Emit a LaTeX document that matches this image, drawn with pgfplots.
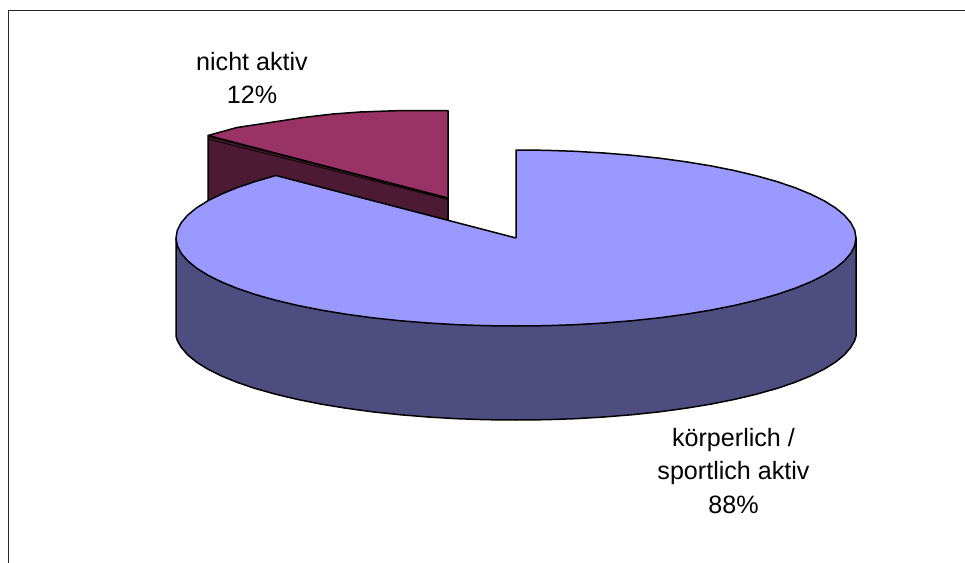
\documentclass[border=0pt]{standalone}
\usepackage{pgfplots}
\pgfplotsset{compat=1.18}
\usepackage{fontspec}
\setmainfont{Liberation Sans}
\definecolor{bigtop}{HTML}{9999FF}
\definecolor{bigwall}{HTML}{4D4D80}
\definecolor{smalltop}{HTML}{993366}
\definecolor{smallwall}{HTML}{4D1A33}
\begin{document}
\begin{tikzpicture}
\path[use as bounding box] (0,0) rectangle (965bp,563bp);
\begin{axis}[
  at={(0,0)},anchor=south west,
  scale only axis,width=965bp,height=563bp,
  xmin=0,xmax=965,ymin=0,ymax=563,y dir=reverse,
  hide axis,clip=false,
  every axis plot/.style={line width=1.5bp,draw=black,line join=round}
]
% frame
\addplot[line width=1.3bp,draw=black!85] coordinates {(8.7,563) (8.7,10.5) (965,10.5)};
% detached slice: wall
\addplot[fill=smallwall] coordinates {(208,136) (448,198) (448,222) (448,300) (208,300) (208,136)};
% detached slice: top
\addplot[fill=smalltop] coordinates {(448,198) (448,110.7) (397,110.7) (360,112) (333,114) (303,117.5) (267,123) (237,127.5) (208,135.5) (448,198)};
\addplot[line width=0.8bp] coordinates {(208,139) (448,199.5)};
% main slice: wall
\addplot[fill=bigwall] coordinates {
(176,238) (176,336) (177.3,340.5) (181.2,347.3) (187.6,354.8) (196.5,362.1) (207.9,369.2) (221.6,376) (237.5,382.5) (255.6,388.6) (275.6,394.2) (297.4,399.4) (321,404.1) (346,408.2) (372.3,411.8) (399.7,414.7) (428,417) (457,418.7) (486.4,419.7) (516,420) (545.6,419.7) (575,418.7) (604,417) (632.3,414.7) (659.7,411.8) (686,408.2) (711,404.1) (734.6,399.4) (756.4,394.2) (776.4,388.6) (794.5,382.5) (810.4,376) (824.1,369.2) (835.5,362.1) (844.4,354.8) (850.8,347.3) (854.7,340.5) (856,336) (856,238) (176,238)};
% main slice: top
\addplot[fill=bigtop] coordinates {
(516,238) (516,150) (545.6,150.3) (575,151.3) (604,153) (632.3,155.3) (659.7,158.2) (686,161.8) (711,165.9) (734.6,170.6) (756.4,175.8) (776.4,181.4) (794.5,187.5) (810.4,194) (824.1,200.8) (835.5,207.9) (844.4,215.2) (850.8,222.7) (854.7,230.3) (856,238) (854.7,245.7) (850.8,253.3) (844.4,260.8) (835.5,268.1) (824.1,275.2) (810.4,282) (794.5,288.5) (776.4,294.6) (756.4,300.2) (734.6,305.4) (711,310.1) (686,314.2) (659.7,317.8) (632.3,320.7) (604,323) (575,324.7) (545.6,325.7) (516,326) (486.4,325.7) (457,324.7) (428,323) (399.7,320.7) (372.3,317.8) (346,314.2) (321,310.1) (297.4,305.4) (275.6,300.2) (255.6,294.6) (237.5,288.5) (221.6,282) (207.9,275.2) (196.5,268.1) (187.6,260.8) (181.2,253.3) (177.3,245.7) (176,238) (177.3,230.3) (181.2,222.7) (187.6,215.2) (196.5,207.9) (207.9,200.8) (221.6,194) (237.5,187.5) (255.6,181.4) (276,175.5) (516,238)};
\node[align=center,font=\fontsize{25.2}{33.5}\selectfont] at (axis cs:252,78) {nicht aktiv\\12\%};
\node[align=center,font=\fontsize{25.2}{33.5}\selectfont] at (axis cs:733.5,471) {körperlich /\\sportlich aktiv\\88\%};
\end{axis}
\end{tikzpicture}
\end{document}
